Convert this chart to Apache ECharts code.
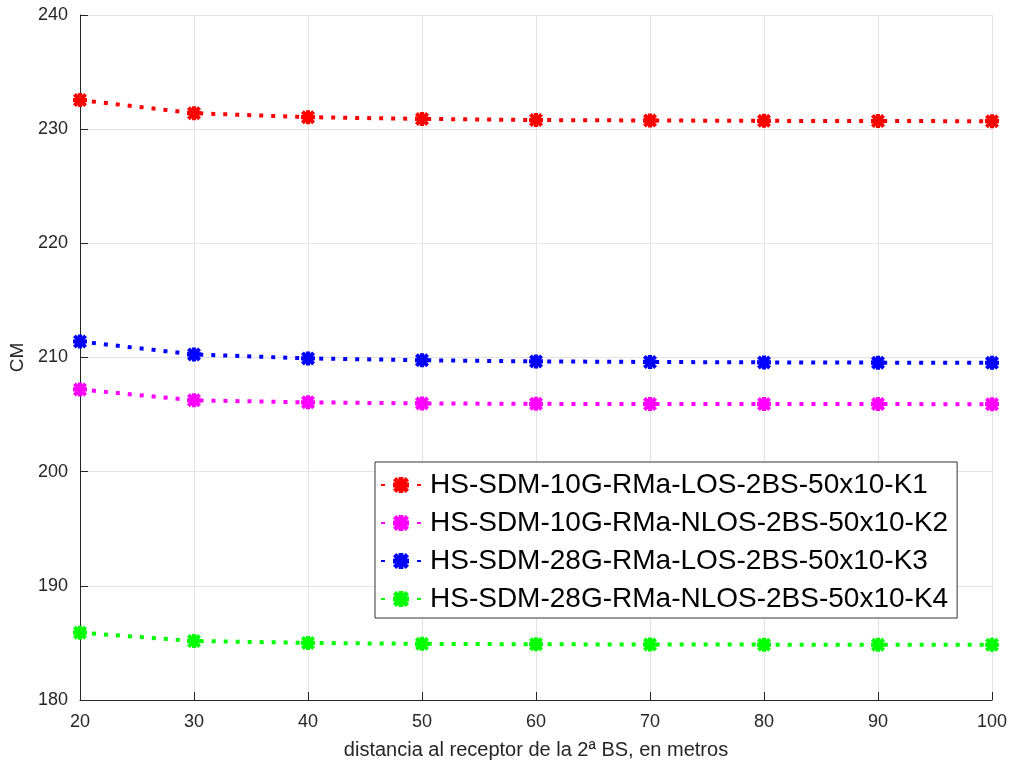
<!DOCTYPE html>
<html style='height: 100%'>
<head>
    <meta charset='utf-8'>
    <script src="https://cdn.jsdelivr.net/npm/echarts@6/dist/echarts.min.js"></script>
</head>
<body style='height: 100%; margin: 0; background: #fff'>
    <div id='container' style='width: 1011px; height: 763px'></div>
    <script type="text/javascript">

// distancias (m) y valores de CM por escenario
var distancias = [20, 30, 40, 50, 60, 70, 80, 90, 100];
var k1 = [232.55, 231.4, 231.05, 230.9, 230.8, 230.76, 230.73, 230.71, 230.7];
var k2 = [207.2, 206.25, 206.07, 205.98, 205.94, 205.93, 205.92, 205.92, 205.91];
var k3 = [211.4, 210.27, 209.92, 209.76, 209.66, 209.61, 209.57, 209.55, 209.53];
var k4 = [185.9, 185.17, 185.0, 184.92, 184.88, 184.86, 184.85, 184.84, 184.84];
var nombres = [
    'HS-SDM-10G-RMa-LOS-2BS-50x10-K1',
    'HS-SDM-10G-RMa-NLOS-2BS-50x10-K2',
    'HS-SDM-28G-RMa-LOS-2BS-50x10-K3',
    'HS-SDM-28G-RMa-NLOS-2BS-50x10-K4'
];
var colores = ['#ff0000', '#ff00ff', '#0000ff', '#00ff00'];

// marcador tipo asterisco grueso
var estrella = 'path://M3.5,0L6.5,0L6.5,10L3.5,10Z M0,3.5L10,3.5L10,6.5L0,6.5Z ' +
    'M2,0L10,8L8,10L0,2Z M8,0L10,2L2,10L0,8Z';

var dom = document.getElementById("container");
var myChart = echarts.init(dom);

function serie(i, vals) {
    return {
        name: nombres[i],
        type: 'line',
        data: distancias.map(function (d, j) { return [d, vals[j]]; }),
        symbol: estrella,
        symbolSize: 14,
        showAllSymbol: true,
        itemStyle: { color: colores[i] },
        lineStyle: { color: colores[i], width: 4, type: [4, 8] },
        animation: false
    };
}

var option = {
    backgroundColor: '#fff',
    textStyle: { fontFamily: 'Liberation Sans, Arial, sans-serif' },
    grid: { left: 80, right: 19, top: 15, bottom: 63, outerBoundsMode: 'none', containLabel: false },
    legend: {
        orient: 'vertical',
        left: 375,
        top: 462,
        padding: [9, 9, 5, 5],
        itemGap: 10,
        itemWidth: 40,
        itemHeight: 20,
        backgroundColor: '#fff',
        borderColor: '#333',
        borderWidth: 1,
        textStyle: { fontSize: 28, lineHeight: 28, color: '#000', padding: [0, 0, 0, 4] },
        data: nombres
    },
    xAxis: {
        type: 'value',
        min: 20, max: 100, interval: 10,
        name: 'distancia al receptor de la 2ª BS, en metros',
        nameLocation: 'middle',
        nameGap: 40,
        nameTextStyle: { fontSize: 20, color: '#262626' },
        axisLine: { lineStyle: { color: '#262626', width: 1 } },
        axisTick: { inside: true, length: 8, lineStyle: { color: '#262626' } },
        axisLabel: { fontSize: 18, color: '#262626', margin: 13 },
        splitLine: { show: true, lineStyle: { color: '#e3e3e3' } }
    },
    yAxis: {
        type: 'value',
        min: 180, max: 240, interval: 10,
        name: 'CM',
        nameLocation: 'middle',
        nameGap: 50,
        nameTextStyle: { fontSize: 19, color: '#262626' },
        axisLine: { show: true, lineStyle: { color: '#262626', width: 1 } },
        axisTick: { show: true, inside: true, length: 8, lineStyle: { color: '#262626' } },
        axisLabel: { fontSize: 18, color: '#262626', margin: 12 },
        splitLine: { show: true, lineStyle: { color: '#e3e3e3' } }
    },
    series: [serie(0, k1), serie(1, k2), serie(2, k3), serie(3, k4)]
};

myChart.setOption(option);
    </script>
</body>
</html>
